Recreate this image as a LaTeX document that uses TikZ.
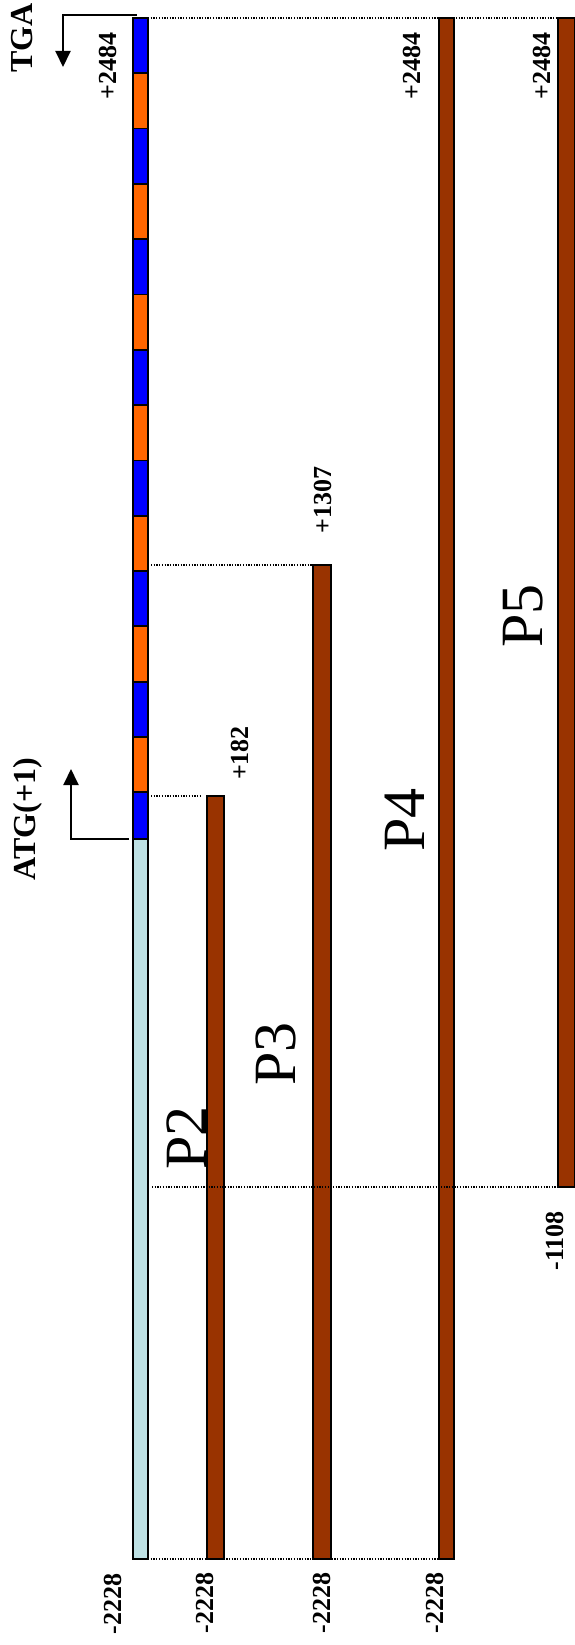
\documentclass[tikz,border=0pt]{standalone}
\usepackage{fontspec}
\setmainfont{Liberation Serif}
\usetikzlibrary{arrows.meta}
\definecolor{cdsblue}{RGB}{0,0,255}
\definecolor{cdsorange}{RGB}{255,102,0}
\definecolor{utrblue}{RGB}{190,225,228}
\definecolor{fragbrown}{RGB}{153,51,0}
\begin{document}
\begin{tikzpicture}[x=1pt,y=-1pt,
  bar/.style={draw=black, line width=1.8pt, inner sep=0pt, outer sep=0pt, anchor=north west},
  fragbar/.style={bar, fill=fragbrown},
  guide/.style={line width=1.3pt, dash pattern=on 1.3pt off 1.4pt},
  pointer/.style={line width=2pt, miter limit=10, -{Triangle[width=15pt,length=16pt]}},
  num/.style={rotate=90, inner sep=0pt, font=\fontsize{26}{26}\selectfont\bfseries},
  tag/.style={rotate=90, inner sep=0pt, font=\fontsize{32}{32}\selectfont\bfseries},
  pname/.style={rotate=90, inner sep=0pt, font=\fontsize{60}{60}\selectfont}]
\useasboundingbox (0,0) rectangle (574,1645);

% coding region: alternating exon blocks
\foreach \i in {0,...,14} {
  \pgfmathsetmacro\ytop{18+\i*55.3}
  \pgfmathsetmacro\ybot{\i==14 ? 839 : 18+(\i+1)*55.3}
  \pgfmathsetmacro\h{\ybot-\ytop}
  \ifodd\i \def\segcol{cdsorange}\else \def\segcol{cdsblue}\fi
  \node[bar, fill=\segcol, minimum width=15pt, minimum height=\h pt] (seg\i) at (133,\ytop) {};
}
% upstream region
\node[bar, fill=utrblue, minimum width=15pt, minimum height=720pt] (utr) at (133,839) {};

% promoter fragments
\node[fragbar, minimum width=17pt, minimum height=763pt] (p2) at (207,796) {};
\node[fragbar, minimum width=18pt, minimum height=994pt] (p3) at (313,565) {};
\node[fragbar, minimum width=15pt, minimum height=1541pt] (p4) at (439,18) {};
\node[fragbar, minimum width=17pt, minimum height=1169pt] (p5) at (558,18) {};

% guide lines
\draw[guide] (seg0.north east) -- (p5.north west);
\draw[guide] ([xshift=3pt]utr.east |- p3.north) -- (p3.north west);
\draw[guide] ([xshift=3pt]utr.east |- p2.north) -- ([xshift=-5pt]p2.north west);
\draw[guide] ([xshift=4pt]utr.east |- p5.south) -- (p5.south west);
\draw[guide] (utr.south east) -- (p4.south west);

% start and stop codon arrows
\coordinate (tgaStart) at (137,15);
\coordinate (tgaCorner) at (63,15);
\coordinate (tgaTip) at (63,67);
\draw[pointer] (tgaStart) -- (tgaCorner) -- (tgaTip);
\coordinate (atgStart) at (129,839);
\coordinate (atgCorner) at (71,839);
\coordinate (atgTip) at (71,769);
\draw[pointer] (atgStart) -- (atgCorner) -- (atgTip);

% labels
\node[tag] (tga) at (22,38) {TGA};
\node[tag] (atg) at (28,819) {ATG(+1)};
\node[num] (endA) at (108,66) {+2484};
\node[num] (endB) at (412,66) {+2484};
\node[num] (endC) at (542,66) {+2484};
\node[num] (end2) at (240,753) {+182};
\node[num] (end3) at (323,500) {+1307};
\node[num] (startG) at (113,1604) {-2228};
\node[num] (start2) at (205,1603) {-2228};
\node[num] (start3) at (322,1603) {-2228};
\node[num] (start4) at (435,1603) {-2228};
\node[num] (start5) at (555,1241) {-1108};

\node[pname] (n2) at (187,1138) {P2};
\node[pname] (n3) at (276,1054) {P3};
\node[pname] (n4) at (405,820) {P4};
\node[pname] (n5) at (523,616) {P5};
\end{tikzpicture}
\end{document}
